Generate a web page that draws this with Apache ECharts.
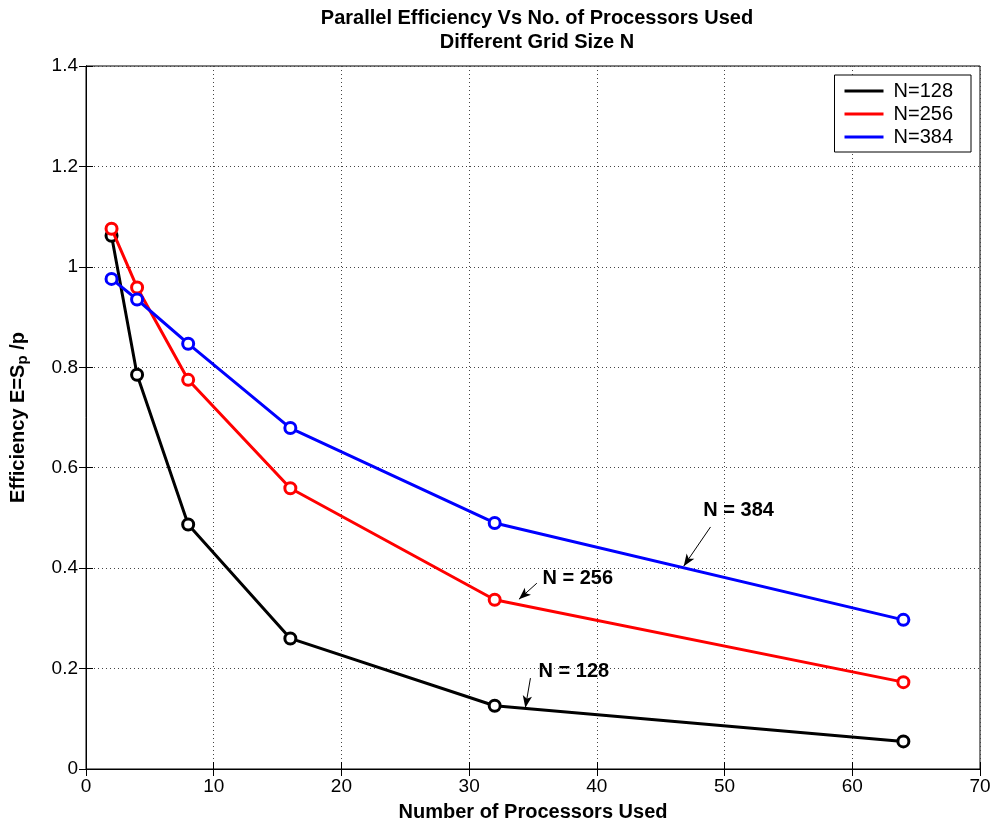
<!DOCTYPE html>
<html>
<head>
<meta charset="utf-8">
<script src="https://cdn.jsdelivr.net/npm/echarts@6/dist/echarts.min.js"></script>
<style>
  html, body { margin: 0; padding: 0; background: #fff; }
  #chart { width: 992px; height: 825px; }
</style>
</head>
<body>
<div id="chart"></div>
<script>
// processors used
const procs = [2, 4, 8, 16, 32, 64]
// efficiency per grid size
const effN128 = [1.062, 0.785, 0.487, 0.26, 0.126, 0.055]
const effN256 = [1.076, 0.959, 0.775, 0.559, 0.337, 0.173]
const effN384 = [0.976, 0.935, 0.847, 0.679, 0.49, 0.297]
const seriesNames = ['N=128', 'N=256', 'N=384']
const seriesColors = ['#000000', '#ff0000', '#0000ff']
const xTicks = [0, 10, 20, 30, 40, 50, 60, 70]
const yTicks = [0, 0.2, 0.4, 0.6, 0.8, 1, 1.2, 1.4]

// annotations: text, text position, arrow tail, arrow tip
const noteText = ['N = 128', 'N = 256', 'N = 384']
const notePos = [[38.2, 0.195], [38.5, 0.38], [51.1, 0.515]]
const arrowFrom = [[34.8, 0.181], [35.3, 0.37], [48.9, 0.482]]
const arrowTo = [[34.4, 0.122], [33.9, 0.338], [46.8, 0.404]]

const font = '"Liberation Sans", Arial, sans-serif'
const chart = echarts.init(document.getElementById('chart'))

const allData = [effN128, effN256, effN384]

const series = allData.map((vals, i) => ({
  name: seriesNames[i],
  type: 'line',
  data: procs.map((p, k) => [p, vals[k]]),
  symbol: 'circle',
  symbolSize: 11,
  showAllSymbol: true,
  lineStyle: { color: seriesColors[i], width: 3 },
  itemStyle: { color: '#fff', borderColor: seriesColors[i], borderWidth: 3 },
  z: 3 + i,
  markLine: {
    silent: true,
    symbol: ['none', 'arrow'],
    symbolSize: [7, 12],
    label: { show: false },
    lineStyle: { color: '#000', width: 1, type: 'solid' },
    data: [[{ coord: arrowFrom[i] }, { coord: arrowTo[i] }]]
  },
  markPoint: {
    silent: true,
    symbol: 'circle',
    symbolSize: 0,
    label: {
      show: true,
      formatter: noteText[i],
      color: '#000',
      fontFamily: font,
      fontWeight: 'bold',
      fontSize: 20
    },
    data: [{ coord: notePos[i] }]
  }
}))

const option = {
  backgroundColor: '#fff',
  animation: false,
  title: {
    text: 'Parallel Efficiency Vs No. of Processors Used\nDifferent Grid Size N',
    left: 532,
    textAlign: 'center',
    top: 1,
    textStyle: { fontFamily: font, fontWeight: 'bold', fontSize: 20, color: '#000', lineHeight: 24 }
  },
  legend: {
    right: 21,
    top: 75,
    orient: 'vertical',
    backgroundColor: '#fff',
    borderColor: '#000',
    borderWidth: 1,
    borderRadius: 0,
    padding: [6, 18, 5, 10],
    itemGap: 3,
    itemWidth: 39,
    itemHeight: 3,
    icon: 'rect',
    data: seriesNames.map((n, i) => ({
      name: n,
      itemStyle: { color: seriesColors[i], borderWidth: 0 }
    })),
    textStyle: { fontFamily: font, fontSize: 20, color: '#000', padding: [0, 0, 0, 5] }
  },
  grid: {
    left: 86, right: 12, top: 66, bottom: 56,
    outerBoundsMode: 'none',
    show: true, borderColor: '#000', borderWidth: 1
  },
  xAxis: [{
    type: 'value',
    min: 0, max: 70, interval: 10,
    name: 'Number of Processors Used',
    nameLocation: 'middle',
    nameGap: 33,
    nameTextStyle: { fontFamily: font, fontWeight: 'bold', fontSize: 20, color: '#000' },
    axisLine: { show: true, lineStyle: { color: '#000', width: 1 } },
    axisTick: { show: true, inside: true, length: 7, lineStyle: { color: '#000' } },
    axisLabel: { fontFamily: font, fontSize: 19, color: '#000', margin: 8,
      formatter: v => xTicks.includes(v) ? String(v) : '' },
    splitLine: { show: true, lineStyle: { color: '#444', type: [1, 3], width: 1 } }
  }, {
    type: 'value', position: 'top',
    min: 0, max: 70, interval: 10,
    axisLine: { show: true, lineStyle: { color: '#000' } },
    axisTick: { show: true, inside: true, length: 7, lineStyle: { color: '#000' } },
    axisLabel: { show: false },
    splitLine: { show: false }
  }],
  yAxis: [{
    type: 'value',
    min: 0, max: 1.4, interval: 0.2,
    name: '{t|Efficiency E=S}{s|p}{t| /p}',
    nameLocation: 'middle',
    nameRotate: 90,
    nameGap: 56,
    nameTextStyle: {
      rich: {
        t: { fontFamily: font, fontWeight: 'bold', fontSize: 20, color: '#000', verticalAlign: 'top', lineHeight: 22 },
        s: { fontFamily: font, fontWeight: 'bold', fontSize: 15, color: '#000', verticalAlign: 'bottom', lineHeight: 22, padding: [12, 0, 0, 0] }
      }
    },
    axisLine: { show: true, lineStyle: { color: '#000', width: 1 } },
    axisTick: { show: true, inside: true, length: 7, lineStyle: { color: '#000' } },
    axisLabel: { fontFamily: font, fontSize: 19, color: '#000', margin: 8,
      formatter: v => {
        const t = yTicks.find(y => Math.abs(y - v) < 1e-6)
        return t === undefined ? '' : String(t)
      } },
    splitLine: { show: true, lineStyle: { color: '#444', type: [1, 3], width: 1 } }
  }, {
    type: 'value', position: 'right',
    min: 0, max: 1.4, interval: 0.2,
    axisLine: { show: true, lineStyle: { color: '#000' } },
    axisTick: { show: true, inside: true, length: 7, lineStyle: { color: '#000' } },
    axisLabel: { show: false },
    splitLine: { show: false }
  }],
  series: series
}

chart.setOption(option)
</script>
</body>
</html>
